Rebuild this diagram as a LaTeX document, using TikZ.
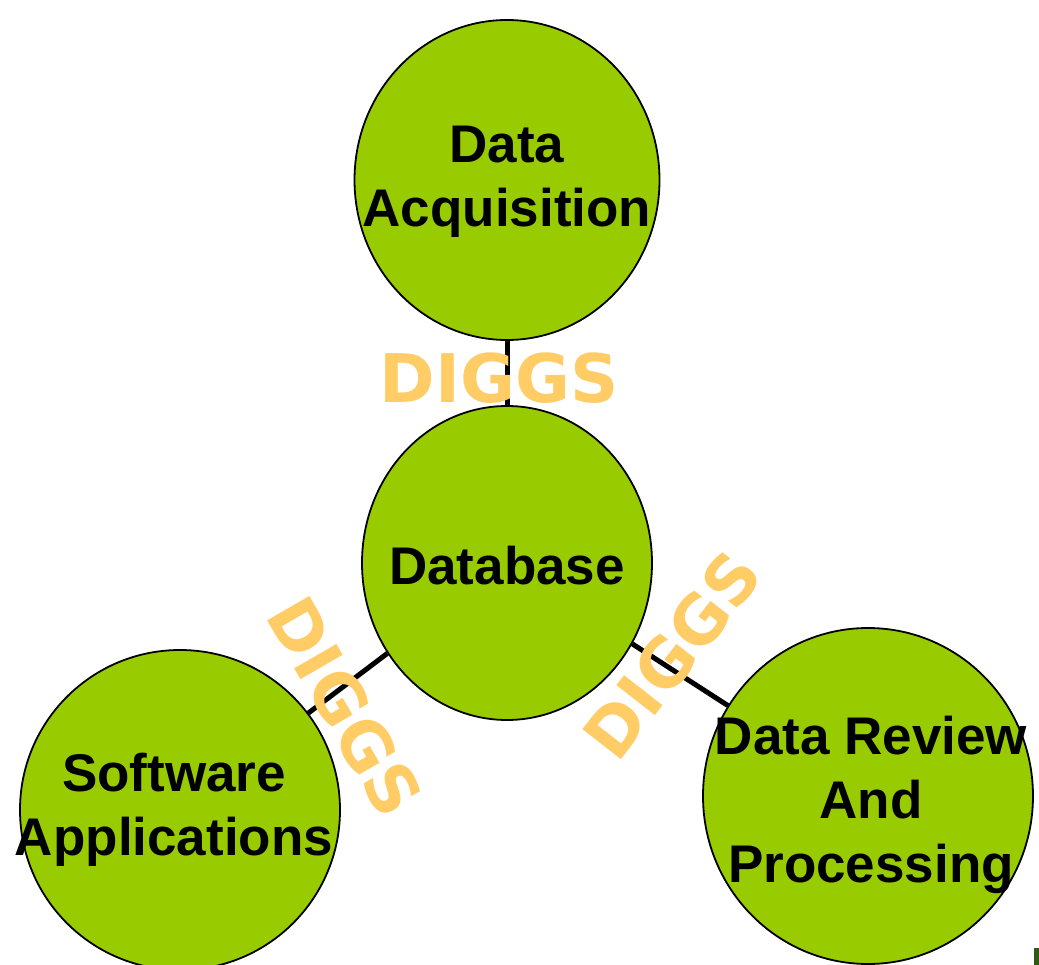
\documentclass[tikz,border=0pt]{standalone}
\usepackage{fontspec}
\setmainfont{Liberation Sans}
\newfontfamily\tagfont{DejaVu Sans}
\usetikzlibrary{shapes.geometric}
\definecolor{leaf}{HTML}{99CC00}
\definecolor{tagorange}{HTML}{FFCC66}
\definecolor{darkleaf}{HTML}{2E5A12}
\tikzset{
  blob/.style={ellipse, draw=black, line width=1.8pt, fill=leaf, inner sep=0pt},
  blobtext/.style={align=center, font=\fontsize{53}{64}\selectfont\bfseries, text=black, inner sep=0pt},
  link/.style={line width=5pt, draw=black},
  tag/.style={font=\tagfont\fontsize{67}{72}\selectfont\bfseries, text=tagorange, inner sep=0pt}
}
\begin{document}
\begin{tikzpicture}[x=1pt,y=-1pt]
\useasboundingbox (0,0) rectangle (1039,965);
\fill[white] (0,0) rectangle (1039,965);
\begin{scope}
\clip (0,0) rectangle (1039,965);
% circles
\node[blob, minimum width=305pt, minimum height=320pt] (acq) at (507,180) {};
\node[blob, minimum width=290pt, minimum height=314pt] (db) at (507,563) {};
\node[blob, minimum width=320pt, minimum height=320pt] (sw) at (180,810) {};
\node[blob, minimum width=330pt, minimum height=336pt] (rev) at (868,796) {};
% connectors
\draw[link] (acq) -- (db);
\draw[link] (db) -- (sw);
\draw[link] (db) -- (rev);
% labels
\node[blobtext] (acqL) at (507,182) {Data\\Acquisition};
\node[blobtext] (dbL) at (507,566) {Database};
\node[blobtext] (swL) at (174,810) {Software\\Applications};
\node[blobtext] (revL) at (871,805) {Data Review\\And\\Processing};
% format tags
\node[tag] (t1) at (499,378) {DIGGS};
\node[tag, rotate=-60] (t2) at (345,707) {DIGGS};
\node[tag, rotate=52] (t3) at (672,655) {DIGGS};
% corner mark
\fill[darkleaf] (1034,948) rectangle (1039,965);
\end{scope}
\end{tikzpicture}
\end{document}
